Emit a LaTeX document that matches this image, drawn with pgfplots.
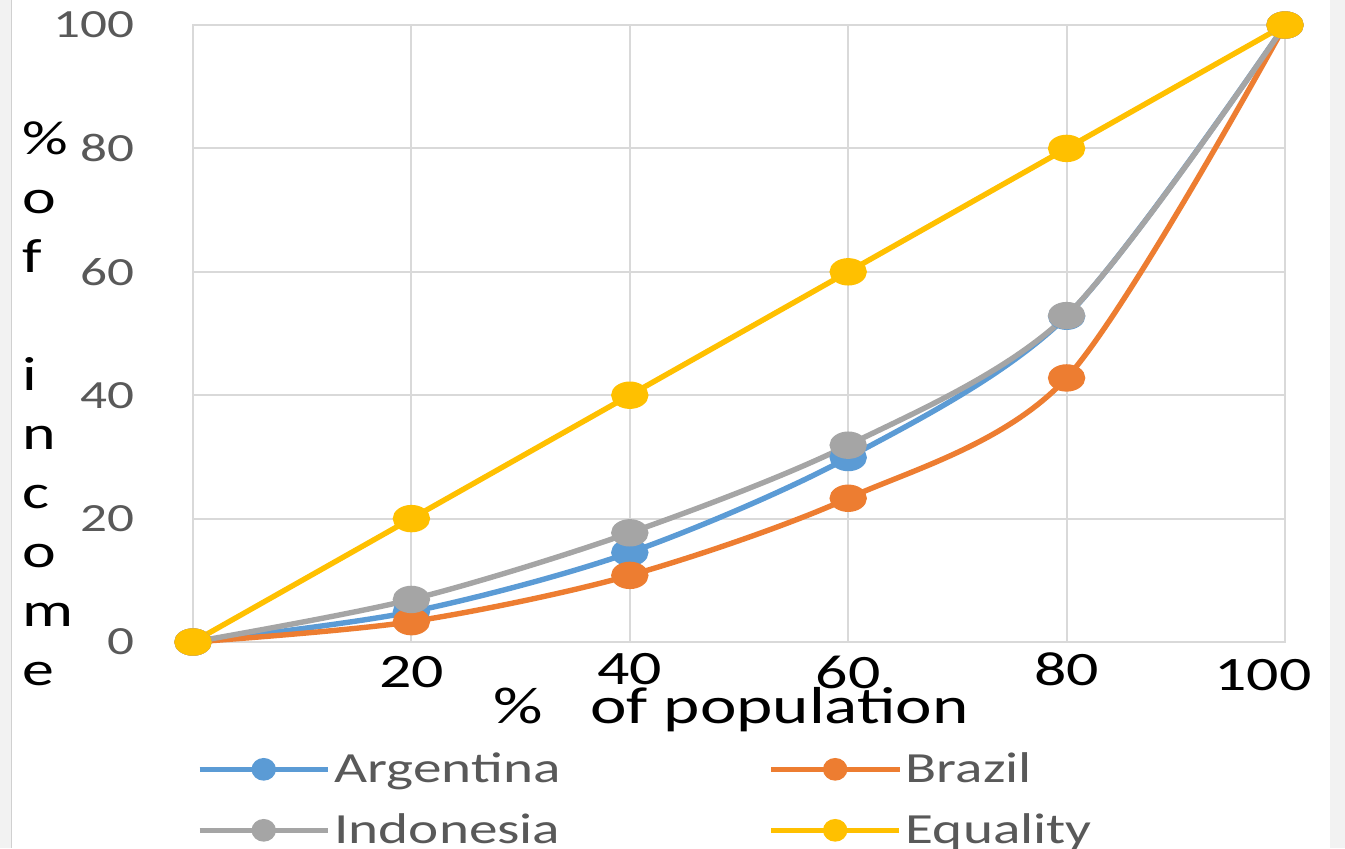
\documentclass[border=0pt]{standalone}
\usepackage{pgfplots}
\pgfplotsset{compat=1.18}
\usepackage{fontspec}
\setmainfont[FakeStretch=1.33]{Carlito}

\definecolor{argc}{HTML}{5B9BD5}
\definecolor{brac}{HTML}{ED7D31}
\definecolor{indc}{HTML}{A5A5A5}
\definecolor{equc}{HTML}{FFC000}
\definecolor{gridc}{HTML}{D9D9D9}
\definecolor{tickc}{HTML}{595959}
\definecolor{framec}{HTML}{F2F2F2}
\definecolor{edgec}{HTML}{D0D0D0}

\begin{document}
\begin{tikzpicture}
\path[use as bounding box] (0,0) rectangle (672.5pt,-424pt);
\fill[framec] (0,0) rectangle (672.5pt,-424pt);
\fill[white] (6pt,0) rectangle (665pt,-424pt);
\draw[edgec, line width=0.8pt] (5.8pt,0) -- (5.8pt,-424pt);

\begin{axis}[
  at={(96.5pt,-321pt)}, anchor=south west,
  scale only axis, width=546pt, height=308.5pt,
  xmin=0, xmax=100, ymin=0, ymax=100,
  enlargelimits=false, clip=false,
  xtick={20,40,60,80,100},
  xticklabels={20,\raisebox{1.2pt}{40},\raisebox{-0.5pt}{60},\raisebox{1pt}{80},\hspace*{-22pt}\raisebox{-1.5pt}{100}},
  ytick={0,20,40,60,80,100},
  grid=major,
  major grid style={gridc, line width=1pt},
  axis line style={gridc, line width=1pt},
  major tick length=0pt,
  /pgf/number format/assume math mode=true,
  yticklabel style={font=\fontsize{20}{24}\selectfont, text=tickc, anchor=east, inner sep=0pt, xshift=-29pt},
  xticklabel style={font=\fontsize{24}{28}\selectfont, text=black, anchor=base, inner sep=0pt, yshift=-22.5pt},
  legend columns=2,
  legend cell align=left,
  legend style={
    at={(axis description cs:0.0037,-0.182)}, anchor=north west,
    draw=none, fill=none, inner sep=0pt, outer sep=0pt,
    font=\fontsize{21.5}{25}\selectfont, text=tickc,
    nodes={inner xsep=0pt, inner ysep=0pt, text height=14pt, text depth=4pt},
    row sep=12.5pt,
    /tikz/every odd column/.append style={column sep=2pt},
    /tikz/every even column/.append style={column sep=104pt},
  },
  legend image code/.code={
    \draw[mark repeat=2, mark phase=2, #1, mark size=4.3pt, mark options={xscale=1.1}]
      plot coordinates {(0pt,1.5pt) (32pt,1.5pt) (64pt,1.5pt)};
  },
  every axis plot/.append style={line width=2.7pt, mark=*, mark size=5.5pt, smooth, tension=0.5},
]
\addplot[color=argc, mark options={xscale=1.45}] coordinates {
  (0,0) (20,4.9) (40,14.5) (60,29.9) (80,52.8) (100,100)};
\addlegendentry{Argentina}
\addplot[color=brac, mark options={xscale=1.45}] coordinates {
  (0,0) (20,3.3) (40,10.8) (60,23.3) (80,42.8) (100,100)};
\addlegendentry{Brazil}
\addplot[color=indc, mark options={xscale=1.45}] coordinates {
  (0,0) (20,6.9) (40,17.7) (60,31.9) (80,52.9) (100,100)};
\addlegendentry{Indonesia}
\addplot[color=equc, mark options={xscale=1.45}, sharp plot] coordinates {
  (0,0) (20,20) (40,40) (60,60) (80,80) (100,100)};
\addlegendentry{Equality}
\end{axis}

% vertical axis title, one letter per line (base = last line)
\node[anchor=base west, align=left, inner sep=0pt,
      font=\fontsize{24}{29.5}\selectfont] at (11pt,-342.5pt)
  {\%\\o\\f\\ \\i\\n\\c\\o\\m\\e};
% horizontal axis title
\node[anchor=base, inner sep=0pt, font=\fontsize{26}{30}\selectfont]
  at (365.5pt,-361.5pt) {\%\hspace{24pt}of population};
\end{tikzpicture}
\end{document}
